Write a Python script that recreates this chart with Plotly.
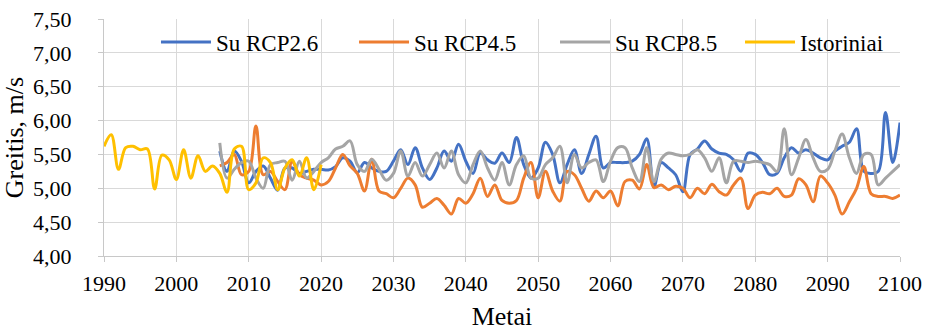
import plotly.graph_objects as go

# ---- data ----
hist_years = list(range(1990, 2021))
hist_vals = [5.62, 5.79, 5.28, 5.60, 5.62, 5.57, 5.58, 4.99, 5.49, 5.42,
             5.13, 5.57, 5.15, 5.48, 5.25, 5.33, 5.22, 4.94, 5.58, 5.62,
             4.98, 5.08, 5.45, 5.38, 4.98, 5.30, 5.42, 5.18, 5.45, 4.98, 5.35]

rcp_years = list(range(2006, 2101))
rcp26 = [5.55, 5.25, 5.55, 5.40, 5.08, 5.25, 5.33, 5.15, 4.97, 5.30,
         5.30, 5.22, 5.25, 5.28, 5.28, 5.27, 5.32, 5.45, 5.40, 5.23,
         5.38, 5.30, 5.25, 5.25, 5.40, 5.57, 5.35, 5.60, 5.30, 5.13,
         5.30, 5.55, 5.40, 5.65, 5.40, 5.22, 5.52, 5.42, 5.37, 5.52,
         5.38, 5.75, 5.35, 5.15, 5.30, 5.68, 5.50, 5.08, 5.35, 5.57,
         5.22, 5.50, 5.77, 5.30, 5.38, 5.38, 5.38, 5.40, 5.50, 5.73,
         5.02, 5.38, 5.30, 5.20, 4.95, 5.50, 5.58, 5.70, 5.58, 5.52,
         5.50, 5.42, 5.25, 5.52, 5.50, 5.38, 5.20, 5.22, 5.45, 5.60,
         5.52, 5.57, 5.52, 5.45, 5.42, 5.55, 5.62, 5.68, 5.88, 5.25,
         5.22, 5.25, 6.12, 5.38, 5.97]
rcp45 = [5.33, 5.38, 5.50, 5.20, 5.25, 5.92, 5.20, 5.25, 5.10, 4.98,
         5.40, 5.20, 5.15, 5.12, 5.05, 5.10, 5.30, 5.50, 5.33, 5.22,
         4.96, 5.43, 4.96, 4.92, 4.86, 5.00, 5.15, 5.05, 4.72, 4.78,
         4.85, 4.75, 4.62, 4.85, 4.78, 4.92, 5.15, 4.88, 5.05, 4.82,
         4.78, 4.82, 5.15, 5.38, 4.86, 5.25, 4.96, 4.81, 5.25, 5.20,
         5.00, 4.81, 4.96, 4.86, 4.96, 4.74, 5.10, 5.12, 4.99, 5.35,
         5.01, 5.05, 4.98, 5.03, 5.00, 4.86, 5.00, 4.92, 5.06, 4.95,
         4.90, 5.05, 5.15, 4.70, 4.90, 4.94, 4.92, 5.00, 4.88, 4.90,
         5.14, 5.05, 4.80, 5.18, 5.08, 4.90, 4.62, 4.80, 5.00, 5.32,
         4.92, 4.88, 4.88, 4.85, 4.90]
rcp85 = [5.67, 5.15, 5.28, 5.38, 5.40, 5.15, 5.00, 5.35, 5.38, 5.40,
         5.12, 5.40, 5.15, 5.25, 5.38, 5.45, 5.58, 5.62, 5.70, 5.35,
         5.25, 5.43, 5.28, 5.12, 5.22, 5.55, 5.18, 5.38, 5.18, 5.35,
         5.52, 5.30, 5.55, 5.20, 5.08, 5.35, 5.55, 5.30, 5.12, 5.38,
         5.05, 5.35, 5.48, 5.15, 5.15, 5.35, 5.45, 5.62, 5.08, 5.50,
         5.30, 5.38, 5.42, 5.10, 5.40, 5.60, 5.60, 5.30, 5.10, 5.60,
         5.10, 5.43, 5.52, 5.50, 5.48, 5.50, 5.57, 5.45, 5.25, 5.45,
         5.08, 5.40, 5.40, 5.38, 5.40, 5.38, 5.35, 5.25, 5.88, 5.20,
         5.45, 5.72, 5.45, 5.25, 5.28, 5.55, 5.80, 5.45, 5.22, 5.50,
         5.50, 5.05, 5.15, 5.25, 5.35]

series = [
    ("Su RCP2.6", rcp_years, rcp26, "#4472C4", "legend", 0.0653),
    ("Su RCP4.5", rcp_years, rcp45, "#ED7D31", "legend2", 0.3141),
    ("Su RCP8.5", rcp_years, rcp85, "#A5A5A5", "legend3", 0.5666),
    ("Istoriniai", hist_years, hist_vals, "#FFC000", "legend4", 0.7990),
]

FONT = "Times New Roman, Liberation Serif, serif"
AXC = "#C8C8C8"

fig = go.Figure()
legends = {}
for name, xs, ys, col, lg, lx in series:
    fig.add_trace(go.Scatter(
        x=xs, y=ys, name=name, mode="lines", legend=lg,
        line=dict(color=col, width=3, shape="spline", smoothing=1.0),
    ))
    legends[lg] = dict(
        x=lx, xanchor="left", y=0.903, yanchor="middle",
        font=dict(family=FONT, size=23, color="black"),
        bgcolor="rgba(0,0,0,0)", itemwidth=50,
    )

fig.update_layout(
    width=929, height=331,
    margin=dict(l=104, r=29, t=19, b=75),
    paper_bgcolor="white", plot_bgcolor="white",
    separators=", ",
    font=dict(family=FONT, size=22, color="black"),
    showlegend=True,
    **legends,
)
fig.update_xaxes(
    range=[1990, 2100], dtick=10, tick0=1990, tickformat="d",
    showgrid=True, gridcolor="#D9D9D9", gridwidth=1,
    showline=True, linecolor=AXC, linewidth=1,
    ticks="outside", ticklen=5, tickcolor=AXC, ticklabelstandoff=3,
    tickfont=dict(family=FONT, size=22, color="black"),
    title=dict(text="Metai", font=dict(family=FONT, size=26, color="black"), standoff=17),
    zeroline=False, automargin=False,
)
fig.update_yaxes(
    range=[4, 7.5], dtick=0.5, tick0=4, tickformat=".2f",
    showgrid=True, gridcolor="#D9D9D9", gridwidth=1,
    showline=True, linecolor=AXC, linewidth=1,
    ticks="outside", ticklen=5, tickcolor=AXC, ticklabelstandoff=22,
    tickfont=dict(family=FONT, size=22, color="black"),
    title=dict(text="Greitis, m/s", font=dict(family=FONT, size=26, color="black"), standoff=2),
    zeroline=False, automargin=False,
)

fig.write_html("out.html")
